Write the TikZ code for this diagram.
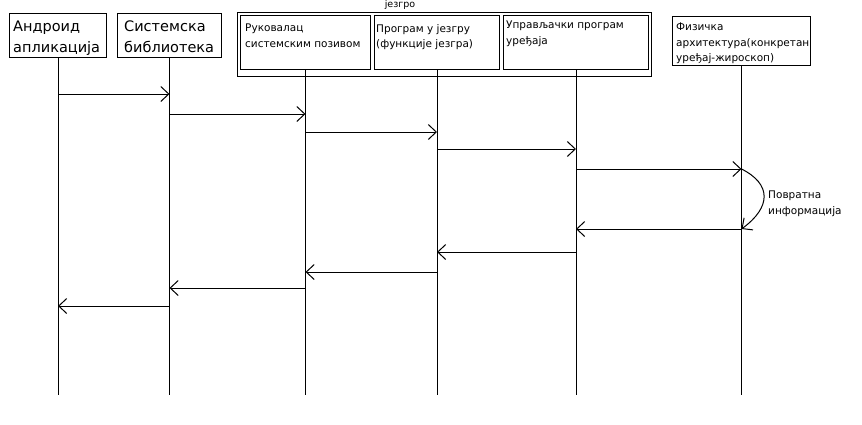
\documentclass[tikz,border=0pt]{standalone}
\usepackage{fontspec}
\setmainfont{DejaVu Sans}
\usetikzlibrary{arrows.meta}

\begin{document}
\begin{tikzpicture}[
            x=1pt, y=-1pt,
            box/.style={rectangle, draw=black, line width=1pt, anchor=north west, inner sep=0pt},
            bigtext/.style={anchor=north west, inner sep=0pt, align=left, font=\fontsize{14.5}{21}\selectfont},
            smalltext/.style={anchor=north west, inner sep=0pt, align=left, font=\fontsize{10.5}{15.5}\selectfont},
            life/.style={line width=1pt},
            msg/.style={-{Straight Barb[length=8pt, width=15pt]}, line width=1pt}
        ]
            \useasboundingbox (0,0) rectangle (862,424);

            \node[box, minimum width=97pt, minimum height=44pt] (and) at (9,13) {};
            \node[box, minimum width=104pt, minimum height=44pt] (sis) at (117,13) {};
            \node[box, minimum width=414pt, minimum height=64pt] (jez) at (237,12) {};
            \node[box, minimum width=130pt, minimum height=54pt] (rsp) at (240,15) {};
            \node[box, minimum width=125pt, minimum height=54pt] (pju) at (374,15) {};
            \node[box, minimum width=145pt, minimum height=54pt] (upr) at (503,15) {};
            \node[box, minimum width=138pt, minimum height=49pt] (fiz) at (672,16) {};

            \node[bigtext] (andtext) at ([xshift=4pt, yshift=-8pt]and.north west) {Андроид\\апликација};
            \node[bigtext] (sistext) at ([xshift=7pt, yshift=-8pt]sis.north west) {Системска\\библиотека};
            \node[smalltext] (rsptext) at ([xshift=5pt, yshift=-9pt]rsp.north west) {Руковалац\\системским позивом};
            \node[smalltext] (pjutext) at ([xshift=2pt, yshift=-9pt]pju.north west) {Програм у језгру\\(функције језгра)};
            \node[smalltext] (uprtext) at ([xshift=3pt, yshift=-6pt]upr.north west) {Управљачки програм\\уређаја};
            \node[smalltext] (fiztext) at ([xshift=4pt, yshift=-7pt]fiz.north west) {Физичка\\архитектура(конкретан\\уређај-жироскоп)};
            \node[font=\fontsize{9.5}{11}\selectfont, inner sep=0pt] (jeztext) at (400,5) {језгро};

            \coordinate (bot) at (0,395);
            \draw[life] (and) -- (and |- bot);
            \draw[life] (sis) -- (sis |- bot);
            \draw[life] (rsp) -- (rsp |- bot);
            \draw[life] (pju) -- (pju |- bot);
            \draw[life] (upr) -- (upr |- bot);
            \draw[life] (fiz) -- (fiz |- bot);

            \coordinate (m1) at (0,94);
            \coordinate (m2) at (0,114);
            \coordinate (m3) at (0,132);
            \coordinate (m4) at (0,149);
            \coordinate (m5) at (0,169);
            \coordinate (m6) at (0,229);
            \coordinate (m7) at (0,252);
            \coordinate (m8) at (0,272);
            \coordinate (m9) at (0,288);
            \coordinate (m10) at (0,306);

            \draw[msg] (and |- m1) -- (sis |- m1);
            \draw[msg] (sis |- m2) -- (rsp |- m2);
            \draw[msg] (rsp |- m3) -- (pju |- m3);
            \draw[msg] (pju |- m4) -- (upr |- m4);
            \draw[msg] (upr |- m5) -- (fiz |- m5);
            \draw[msg] (fiz |- m5) .. controls +(30,15) and +(30,-22) .. (fiz |- m6);
            \draw[msg] (fiz |- m6) -- (upr |- m6);
            \draw[msg] (upr |- m7) -- (pju |- m7);
            \draw[msg] (pju |- m8) -- (rsp |- m8);
            \draw[msg] (rsp |- m9) -- (sis |- m9);
            \draw[msg] (sis |- m10) -- (and |- m10);

            \node[smalltext, anchor=west] (pov) at (768,204) {Повратна\\информација};
        \end{tikzpicture}
\end{document}
